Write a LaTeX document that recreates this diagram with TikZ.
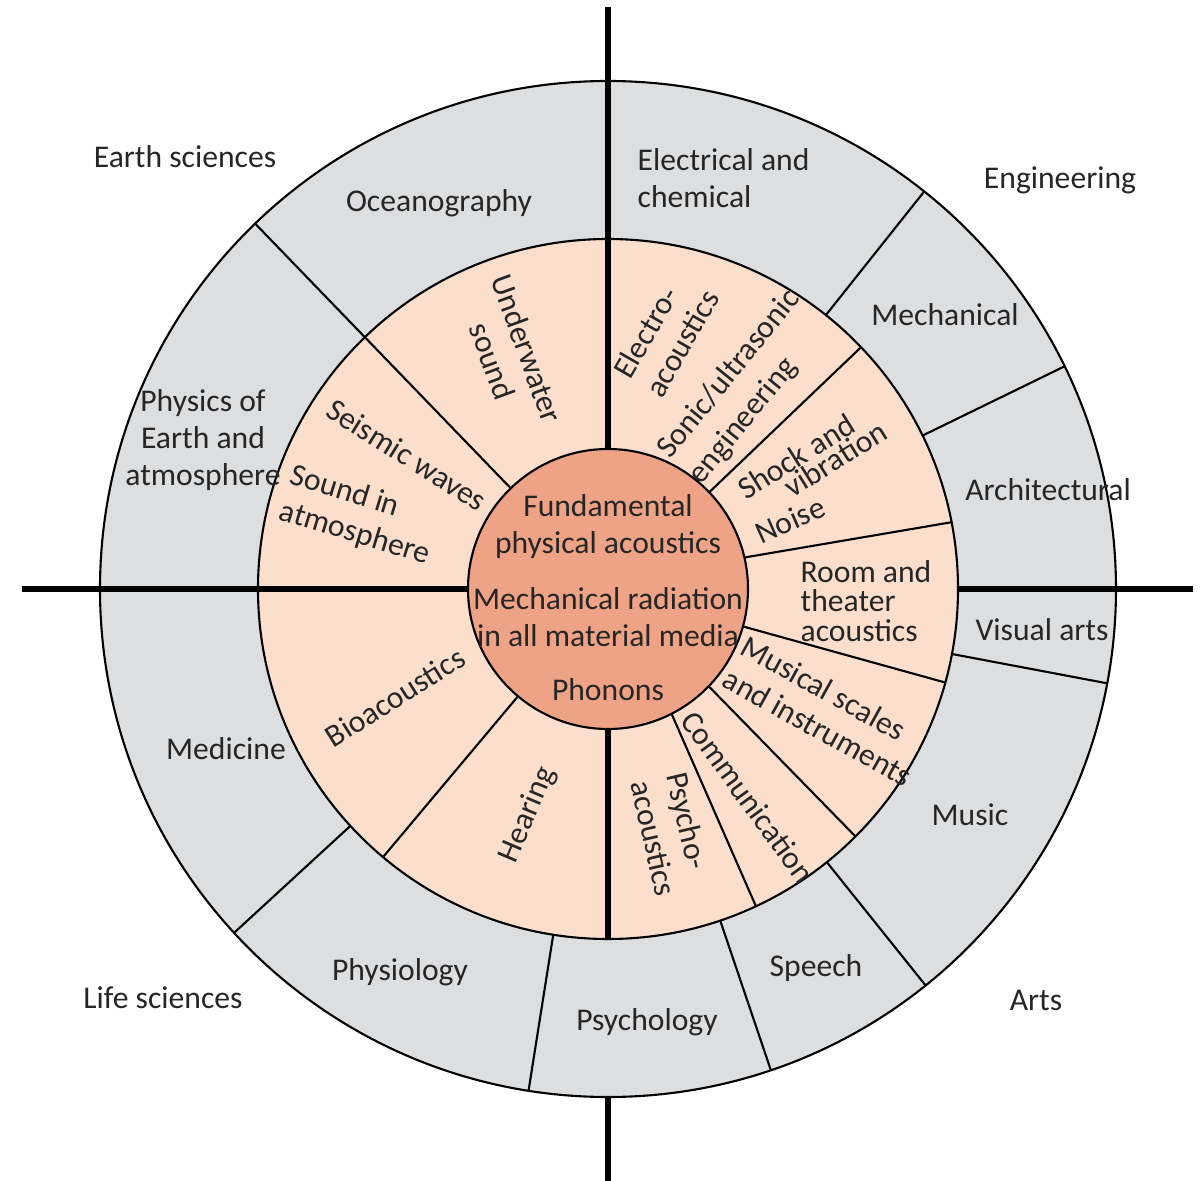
\documentclass[tikz,border=0pt]{standalone}
\usepackage{fontspec}
\setmainfont{Carlito}
\definecolor{ringgray}{RGB}{221,222,224}
\definecolor{ringpink}{RGB}{252,222,204}
\definecolor{corepink}{RGB}{238,163,134}
\begin{document}
\begin{tikzpicture}[
    every node/.style={font=\fontsize{9}{10.5}\selectfont,text=black!85,inner sep=0pt},
    divider/.style={line width=0.6pt},
    axis/.style={line width=1.5pt},
    lbl/.style={align=center}]
  \useasboundingbox (-6.08,-5.92) rectangle (5.96,5.89);
  \coordinate (O) at (0,0);
  % rings
  \filldraw[fill=ringgray,divider] (O) circle (5.08);
  \filldraw[fill=ringpink,divider] (O) circle (3.5);
  % inner ring dividers
  \foreach \a/\b/\r in {134/134/5.08, 43.7/43.7/3.5, 13/11/3.5, -15.5/-15.5/3.5,
      -44/-45/3.5, -63/-65/3.5, 230/230/3.5}
    \draw[divider] (\a:1.4) -- (\b:\r);
  % outer ring dividers
  \foreach \a in {51.5, 26, -10.7, -51.3, -71.3, -99, 222.6}
    \draw[divider] (\a:3.5) -- (\a:5.08);
  % axes
  \coordinate (top) at (0,5.82);
  \coordinate (bot) at (0,-5.92);
  \coordinate (lft) at (-5.86,0);
  \coordinate (rgt) at (5.85,0);
  \draw[axis] (top) -- (O);
  \draw[axis] (lft) -- (O);
  \draw[axis] (O) -- (0,-3.5);
  \draw[axis] (0,-5.08) -- (bot);
  \draw[axis] (3.5,0) -- (rgt);
  % core
  \filldraw[fill=corepink,divider] (O) circle (1.4);

  % core texts
  \node[lbl] (fund) at (0,0.62) {Fundamental\\physical acoustics};
  \node[lbl] (mech) at (0,-0.28) {Mechanical radiation\\in all material media};
  \node (phon) at (0,-1.01) {Phonons};

  % inner ring
  \node[lbl,rotate=-70] (under) at (-0.98,2.34) {Underwater\\sound};
  \node[align=left,rotate=60] (electro) at (0.58,2.55) {Electro-\\acoustics};
  \node[align=left,rotate=51] (sonic) at (1.37,2.02) {Sonic/ultrasonic\\[1pt]engineering};
  \node[align=right,rotate=32] (shock) at (2.04,1.29) {Shock and\hspace*{0.75em}\\[-4pt]vibration};
  \node[rotate=24] (noise) at (1.82,0.69) {Noise};
  \node[align=left,anchor=west] (room) at (1.92,-0.12) {Room and\\[-2.2pt]theater\\[-2.2pt]acoustics};
  \node[align=left,rotate=-29] (musical) at (2.19,-1.22) {Musical scales\\and instruments};
  \node[rotate=-54] (comm) at (1.40,-2.08) {Communication};
  \node[align=left,rotate=-77] (psycho) at (0.64,-2.45) {Psycho-\\acoustics};
  \node[rotate=67] (hear) at (-0.80,-2.26) {Hearing};
  \node[rotate=32] (bio) at (-2.13,-1.08) {Bioacoustics};
  \node[rotate=-32] (seis) at (-2.01,1.34) {Seismic waves};
  \node[align=left,rotate=-17] (soundatm) at (-2.48,0.73) {Sound in\\atmosphere};

  % outer ring
  \node (ocean) at (-1.69,3.86) {Oceanography};
  \node[align=left,anchor=west] (elec) at (0.29,4.11) {Electrical and\\chemical};
  \node (mechan) at (3.37,2.74) {Mechanical};
  \node (arch) at (4.40,0.99) {Architectural};
  \node (visual) at (4.34,-0.41) {Visual arts};
  \node (music) at (3.62,-2.26) {Music};
  \node (speech) at (2.08,-3.79) {Speech};
  \node (psychol) at (0.39,-4.33) {Psychology};
  \node (physio) at (-2.08,-3.83) {Physiology};
  \node (medic) at (-3.82,-1.60) {Medicine};
  \node[lbl] (physearth) at (-4.05,1.49) {Physics of\\Earth and\\atmosphere};

  % fields
  \node (earth) at (-4.23,4.32) {Earth sciences};
  \node (engin) at (4.52,4.09) {Engineering};
  \node (arts) at (4.28,-4.11) {Arts};
  \node (life) at (-4.45,-4.09) {Life sciences};
\end{tikzpicture}
\end{document}
